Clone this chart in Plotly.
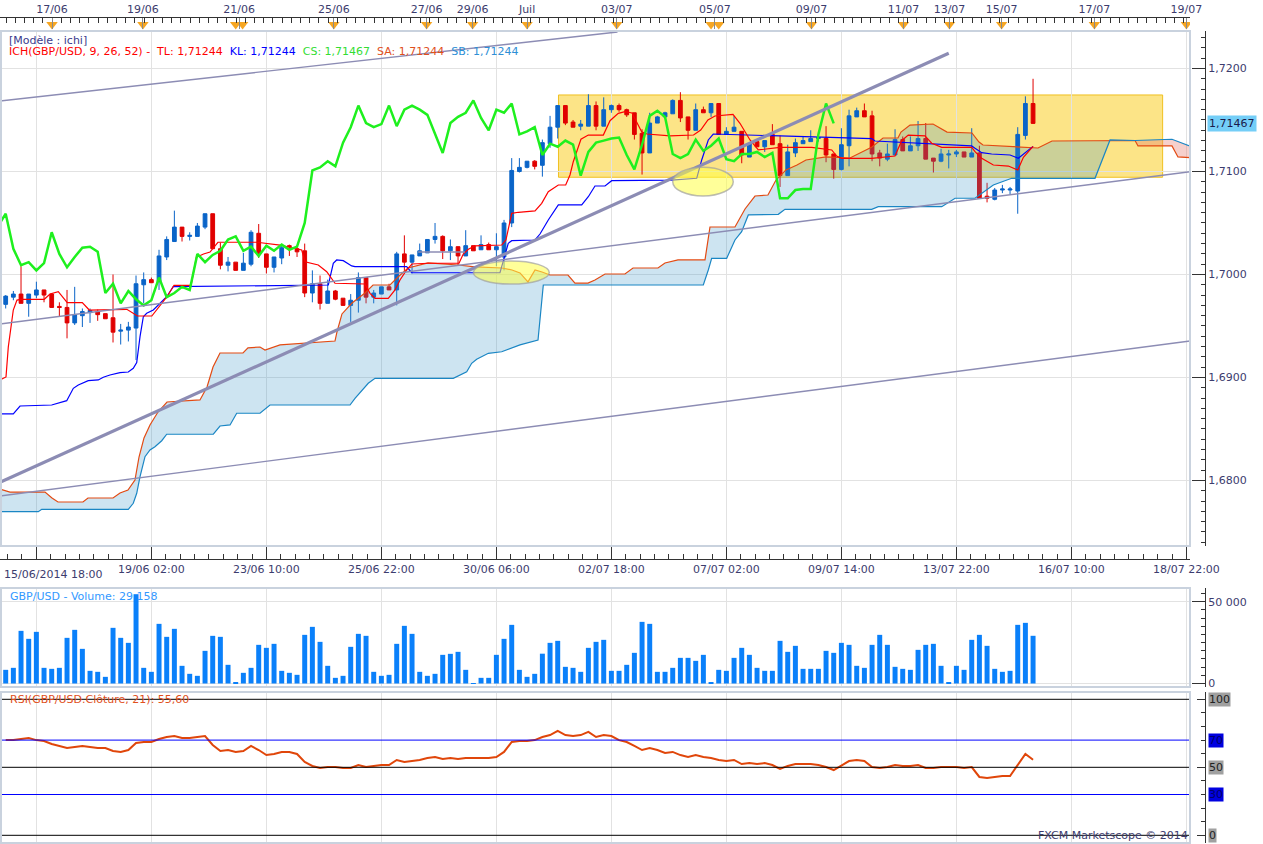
import numpy as np
import plotly.graph_objects as go

W, H = 1263, 844

# 4h bars, index 0..134 (15/06/2014 18:00 -> 15/07/2014)
opens = [1.6971, 1.6978, 1.6981, 1.6972, 1.6980, 1.6985, 1.6981, 1.6969, 1.6968, 1.6953,
         1.6960, 1.6963, 1.6964, 1.6962, 1.6958, 1.6945, 1.6946, 1.6948, 1.6990, 1.6995,
         1.6993, 1.7017, 1.7032, 1.7046, 1.7037, 1.7037, 1.7046, 1.7059, 1.7025, 1.7009,
         1.7012, 1.7004, 1.7010, 1.7040, 1.7020, 1.7007, 1.7016, 1.7028, 1.7025, 1.7023,
         1.6982, 1.6991, 1.6972, 1.6984, 1.6977, 1.6970, 1.6975, 1.6997, 1.6978, 1.6981,
         1.6988, 1.6985, 1.7020, 1.7012, 1.7018, 1.7021, 1.7034, 1.7037, 1.7023, 1.7027,
         1.7018, 1.7028, 1.7024, 1.7029, 1.7024, 1.7017, 1.7050, 1.7100, 1.7104, 1.7110,
         1.7106, 1.7127, 1.7143, 1.7164, 1.7148, 1.7144, 1.7144, 1.7164, 1.7144, 1.7160,
         1.7164, 1.7160, 1.7157, 1.7137, 1.7118, 1.7147, 1.7153, 1.7156, 1.7169, 1.7153,
         1.7140, 1.7160, 1.7157, 1.7166, 1.7136, 1.7139, 1.7139, 1.7114, 1.7129, 1.7124,
         1.7136, 1.7127, 1.7096, 1.7118, 1.7127, 1.7129, 1.7132, 1.7132, 1.7117, 1.7102,
         1.7125, 1.7153, 1.7159, 1.7154, 1.7118, 1.7112, 1.7116, 1.7131, 1.7120, 1.7125,
         1.7132, 1.7113, 1.7110, 1.7116, 1.7117, 1.7119, 1.7114, 1.7118, 1.7076, 1.7073,
         1.7082, 1.7082, 1.7081, 1.7135, 1.7166]
highs = [1.6980, 1.6984, 1.7008, 1.6981, 1.6993, 1.6985, 1.6982, 1.6973, 1.6985, 1.6988,
         1.6967, 1.6967, 1.6966, 1.6962, 1.7000, 1.6952, 1.6954, 1.6999, 1.7002, 1.6997,
         1.7024, 1.7037, 1.7062, 1.7046, 1.7041, 1.7050, 1.7059, 1.7059, 1.7031, 1.7017,
         1.7012, 1.7021, 1.7043, 1.7049, 1.7020, 1.7017, 1.7029, 1.7029, 1.7028, 1.7030,
         1.7004, 1.6999, 1.6995, 1.6985, 1.6977, 1.6981, 1.7002, 1.6997, 1.6985, 1.6988,
         1.6991, 1.7022, 1.7038, 1.7019, 1.7030, 1.7034, 1.7050, 1.7038, 1.7034, 1.7027,
         1.7043, 1.7028, 1.7038, 1.7031, 1.7040, 1.7053, 1.7113, 1.7113, 1.7110, 1.7111,
         1.7131, 1.7154, 1.7164, 1.7164, 1.7150, 1.7150, 1.7175, 1.7168, 1.7172, 1.7165,
         1.7166, 1.7161, 1.7157, 1.7141, 1.7157, 1.7154, 1.7158, 1.7170, 1.7177, 1.7153,
         1.7166, 1.7163, 1.7166, 1.7166, 1.7143, 1.7154, 1.7139, 1.7127, 1.7129, 1.7130,
         1.7146, 1.7135, 1.7126, 1.7132, 1.7134, 1.7140, 1.7136, 1.7144, 1.7117, 1.7142,
         1.7160, 1.7162, 1.7166, 1.7159, 1.7121, 1.7127, 1.7141, 1.7134, 1.7134, 1.7149,
         1.7147, 1.7113, 1.7122, 1.7121, 1.7121, 1.7119, 1.7142, 1.7125, 1.7089, 1.7084,
         1.7087, 1.7085, 1.7143, 1.7173, 1.7190]
lows = [1.6967, 1.6975, 1.6972, 1.6959, 1.6977, 1.6973, 1.6968, 1.6959, 1.6938, 1.6951,
        1.6949, 1.6953, 1.6955, 1.6957, 1.6934, 1.6932, 1.6935, 1.6917, 1.6972, 1.6992,
        1.6985, 1.7014, 1.7032, 1.7032, 1.7033, 1.7037, 1.7044, 1.7025, 1.7005, 1.7003,
        1.7004, 1.7004, 1.7008, 1.7016, 1.7001, 1.7002, 1.7010, 1.7018, 1.7017, 1.6978,
        1.6973, 1.6966, 1.6972, 1.6975, 1.6970, 1.6954, 1.6963, 1.6972, 1.6972, 1.6981,
        1.6985, 1.6970, 1.7003, 1.7001, 1.7018, 1.7021, 1.7030, 1.7015, 1.7014, 1.7009,
        1.7018, 1.7023, 1.7024, 1.7024, 1.7008, 1.7004, 1.7046, 1.7099, 1.7103, 1.7102,
        1.7095, 1.7123, 1.7132, 1.7145, 1.7143, 1.7140, 1.7144, 1.7140, 1.7144, 1.7157,
        1.7158, 1.7153, 1.7131, 1.7097, 1.7118, 1.7147, 1.7153, 1.7156, 1.7148, 1.7131,
        1.7140, 1.7157, 1.7153, 1.7136, 1.7136, 1.7139, 1.7108, 1.7114, 1.7124, 1.7119,
        1.7126, 1.7085, 1.7096, 1.7114, 1.7127, 1.7129, 1.7129, 1.7109, 1.7093, 1.7101,
        1.7105, 1.7153, 1.7153, 1.7110, 1.7105, 1.7110, 1.7116, 1.7120, 1.7120, 1.7120,
        1.7112, 1.7099, 1.7109, 1.7103, 1.7114, 1.7114, 1.7114, 1.7074, 1.7070, 1.7072,
        1.7079, 1.7078, 1.7059, 1.7131, 1.7147]
closes = [1.6979, 1.6981, 1.6972, 1.6981, 1.6985, 1.6980, 1.6968, 1.6968, 1.6953, 1.6961,
          1.6964, 1.6965, 1.6961, 1.6957, 1.6944, 1.6946, 1.6949, 1.6991, 1.6995, 1.6992,
          1.7018, 1.7034, 1.7046, 1.7037, 1.7038, 1.7047, 1.7059, 1.7025, 1.7009, 1.7012,
          1.7004, 1.7011, 1.7041, 1.7020, 1.7007, 1.7017, 1.7026, 1.7027, 1.7022, 1.6982,
          1.6991, 1.6972, 1.6984, 1.6976, 1.6970, 1.6975, 1.6997, 1.6978, 1.6982, 1.6988,
          1.6985, 1.7020, 1.7012, 1.7019, 1.7023, 1.7034, 1.7037, 1.7023, 1.7027, 1.7018,
          1.7028, 1.7023, 1.7029, 1.7024, 1.7027, 1.7050, 1.7101, 1.7104, 1.7110, 1.7105,
          1.7128, 1.7143, 1.7164, 1.7147, 1.7143, 1.7146, 1.7164, 1.7144, 1.7160, 1.7164,
          1.7160, 1.7155, 1.7136, 1.7118, 1.7147, 1.7153, 1.7157, 1.7169, 1.7152, 1.7140,
          1.7160, 1.7157, 1.7166, 1.7136, 1.7139, 1.7143, 1.7116, 1.7127, 1.7124, 1.7130,
          1.7126, 1.7096, 1.7119, 1.7128, 1.7130, 1.7132, 1.7133, 1.7116, 1.7102, 1.7126,
          1.7154, 1.7159, 1.7153, 1.7117, 1.7113, 1.7117, 1.7131, 1.7120, 1.7125, 1.7132,
          1.7112, 1.7110, 1.7117, 1.7117, 1.7119, 1.7114, 1.7118, 1.7074, 1.7074, 1.7082,
          1.7083, 1.7083, 1.7136, 1.7166, 1.71467]
volumes = [8350, 9570, 32180, 27300, 31570, 9570, 8960, 9570, 27910, 32800,
           21180, 7740, 7130, 4070, 34020, 27910, 24850, 54590, 9570, 7130,
           36460, 28520, 33410, 10800, 5910, 4690, 19960, 29130, 28520, 11410,
           410, 6520, 9570, 23630, 21800, 24240, 7740, 6520, 5300, 29740,
           34630, 25460, 10800, 3460, 4690, 22410, 30350, 29130, 7130, 4690,
           5300, 24240, 35240, 30350, 7130, 4690, 5910, 17520, 18130, 19350,
           8350, 300, 3460, 3460, 17520, 27300, 35850, 8350, 4070, 5910,
           18230, 24850, 26070, 10190, 9570, 7130, 21800, 25460, 26690, 7740,
           7740, 11410, 18740, 37680, 36460, 7130, 7130, 9570, 15680, 15680,
           13850, 17520, 610, 8350, 7740, 15680, 21800, 17520, 9570, 7740,
           7740, 26070, 19350, 23020, 8960, 8960, 8960, 19960, 18740, 24850,
           23630, 10800, 9570, 23630, 29740, 23630, 10190, 8960, 8350, 20570,
           23630, 24240, 10800, 610, 10800, 8350, 26690, 29740, 23020, 8960,
           7130, 7740, 35850, 37070, 29158]
rsi = [70.1, 70.0, 70.8, 71.5, 70.0, 69.3, 67.1, 65.7, 64.2, 64.9,
       65.7, 64.9, 64.2, 64.2, 62.0, 61.3, 62.7, 67.9, 68.6, 68.6,
       70.8, 72.3, 73.0, 71.5, 71.5, 72.3, 73.0, 66.4, 62.0, 62.7,
       61.3, 62.0, 65.7, 62.7, 59.0, 59.8, 61.3, 61.3, 59.8, 53.9,
       51.0, 49.5, 50.2, 50.2, 49.5, 49.5, 51.7, 50.2, 51.0, 51.7,
       51.7, 55.4, 53.9, 54.6, 55.4, 56.8, 57.6, 56.1, 56.8, 56.1,
       56.8, 56.8, 56.8, 56.8, 57.6, 61.3, 68.6, 69.3, 69.3, 70.0,
       72.3, 73.7, 76.7, 73.7, 73.0, 73.7, 76.0, 72.3, 73.7, 73.0,
       70.0, 68.6, 65.7, 62.7, 64.2, 62.7, 60.5, 61.3, 59.0, 57.6,
       59.0, 57.6, 56.8, 55.4, 54.6, 55.4, 52.4, 53.1, 52.4, 53.1,
       51.7, 48.8, 51.0, 52.4, 52.4, 52.4, 51.7, 50.2, 48.0, 51.0,
       54.6, 55.4, 54.6, 50.2, 49.5, 50.2, 51.7, 51.0, 51.0, 51.7,
       49.5, 49.5, 50.2, 50.2, 50.2, 49.5, 50.2, 42.9, 42.1, 42.9,
       43.6, 43.6, 51.7, 59.8, 55.6]

# Ichimoku lines: (bar index, price)
tenkan_x = [-0.74, 0.04, 0.34, 0.99, 1.47, 2.03, 5.03, 5.78, 6.86, 8.03, 9.99, 10.9, 15.8, 17.19,
            19.06, 19.98, 21.04, 21.95, 24.17, 24.87, 25.81, 26.65, 27.68, 32.78, 35.78, 38.61,
            39.04, 40.77, 41.87, 42.95, 46.86, 47.52, 48.17, 49.9, 50.78, 51.43, 52.3, 52.99,
            55.12, 59.13, 59.68, 60.34, 61.21, 64.69, 65.25, 66.0, 66.86, 69.04, 69.91, 70.77,
            72.08, 73.04, 73.6, 74.03, 75.03, 75.99, 77.95, 78.82, 79.9, 80.77, 81.69, 82.95,
            83.64, 86.64, 89.72, 90.65, 91.59, 92.51, 94.86, 95.77, 97.08, 98.16, 100.99,
            105.13, 107.74, 108.39, 109.04, 112.95, 115.99, 116.86, 117.72, 119.9, 120.78,
            122.09, 126.0, 126.43, 127.3, 128.82, 130.78, 132.01, 132.74, 134.0]
tenkan_y = [1.68976, 1.69005, 1.69296, 1.69655, 1.69752, 1.69759, 1.69759, 1.69811, 1.69833,
            1.69726, 1.69726, 1.69655, 1.69662, 1.69597, 1.69597, 1.69687, 1.69784, 1.69895,
            1.69895, 1.70167, 1.70199, 1.70218, 1.70313, 1.70313, 1.70286, 1.70238, 1.70124,
            1.70092, 1.70027, 1.69915, 1.69908, 1.69817, 1.69769, 1.69769, 1.69850, 1.69947,
            1.70044, 1.70102, 1.70109, 1.70109, 1.70199, 1.70245, 1.70277, 1.70286, 1.70335,
            1.70594, 1.70604, 1.70617, 1.70691, 1.70804, 1.70869, 1.70869, 1.70966, 1.71095,
            1.71313, 1.71354, 1.71354, 1.71493, 1.71565, 1.71581, 1.71568, 1.71386, 1.71364,
            1.71345, 1.71354, 1.71403, 1.71500, 1.71539, 1.71555, 1.71468, 1.71306, 1.71209,
            1.71235, 1.71235, 1.71209, 1.71150, 1.71128, 1.71128, 1.71150, 1.71299, 1.71354,
            1.71345, 1.71274, 1.71235, 1.71235, 1.71192, 1.71128, 1.71063, 1.71053, 1.71015,
            1.71138, 1.71244]
kijun_x = [-0.74, 0.99, 1.87, 6.0, 7.96, 8.82, 9.47, 10.77, 12.08, 12.73, 13.6, 14.91, 15.99,
           16.64, 17.09, 17.52, 17.95, 18.39, 19.25, 20.13, 21.0, 21.86, 42.08, 42.73, 43.17,
           44.03, 45.13, 45.56, 52.3, 52.95, 64.47, 65.55, 66.0, 69.04, 69.69, 70.77, 72.08,
           75.13, 75.99, 76.86, 78.17, 79.04, 86.87, 90.13, 90.78, 91.64, 92.29, 100.99,
           112.95, 113.38, 125.99, 126.43, 127.3, 128.6, 131.0, 132.08, 134.0]
kijun_y = [1.68646, 1.68646, 1.68723, 1.68733, 1.68775, 1.68895, 1.68927, 1.68969, 1.68976,
           1.69002, 1.69024, 1.69047, 1.69053, 1.69089, 1.69144, 1.69396, 1.69590, 1.69623,
           1.69655, 1.69720, 1.69784, 1.69882, 1.69898, 1.70109, 1.70141, 1.70134, 1.70083,
           1.70076, 1.70076, 1.70017, 1.70017, 1.70303, 1.70328, 1.70335, 1.70393, 1.70529,
           1.70675, 1.70675, 1.70755, 1.70859, 1.70859, 1.70911, 1.70917, 1.70934, 1.71112,
           1.71306, 1.71364, 1.71345, 1.71320, 1.71296, 1.71248, 1.71225, 1.71183, 1.71170,
           1.71160, 1.71128, 1.71244]
senkou_a_x = [-0.74, 0.56, 5.13, 6.04, 6.82, 10.08, 10.73, 14.0, 14.91, 15.95, 16.86, 17.39,
              18.04, 18.82, 19.86, 21.04, 25.34, 26.26, 27.04, 27.95, 30.95, 31.6, 33.17, 33.82,
              35.78, 42.95, 43.21, 43.86, 45.17, 46.86, 47.91, 50.12, 51.17, 52.47, 55.08, 58.99,
              61.21, 64.73, 66.04, 67.08, 68.12, 69.04, 69.95, 70.99, 73.34, 74.25, 75.95, 76.86,
              78.17, 80.77, 81.82, 85.08, 85.99, 87.69, 91.21, 91.86, 95.12, 96.43, 97.73, 99.42,
              100.47, 101.77, 103.21, 104.38, 106.99, 110.12, 112.99, 114.43, 116.38, 116.77,
              117.95, 120.95, 122.78, 126.03, 126.95, 127.47, 134.64, 136.47, 147.3, 147.69,
              152.12, 152.9, 155.12]
senkou_a_y = [1.67917, 1.67888, 1.67888, 1.67830, 1.67791, 1.67791, 1.67830, 1.67830, 1.67879,
              1.67908, 1.68005, 1.68228, 1.68413, 1.68539, 1.68665, 1.68762, 1.68782, 1.68908,
              1.69102, 1.69238, 1.69238, 1.69287, 1.69296, 1.69267, 1.69316, 1.69354, 1.69442,
              1.69617, 1.69723, 1.69820, 1.69898, 1.69898, 1.69976, 1.70063, 1.70112, 1.70092,
              1.70073, 1.70063, 1.70044, 1.70015, 1.69928, 1.70044, 1.70024, 1.69995, 1.69995,
              1.69917, 1.69917, 1.69947, 1.70005, 1.70005, 1.70063, 1.70063, 1.70112, 1.70141,
              1.70141, 1.70461, 1.70461, 1.70636, 1.70762, 1.70772, 1.70917, 1.71015, 1.71063,
              1.71112, 1.71141, 1.71131, 1.71238, 1.71325, 1.71325, 1.71383, 1.71451, 1.71461,
              1.71383, 1.71374, 1.71286, 1.71257, 1.71228, 1.71296, 1.71301, 1.71248, 1.71248,
              1.71141, 1.71131]
senkou_b_x = [-0.74, 4.25, 4.7, 15.99, 16.64, 17.09, 17.52, 18.17, 18.82, 19.47, 20.35, 21.0,
              27.08, 27.95, 29.26, 30.13, 33.17, 34.47, 44.91, 45.56, 47.29, 48.17, 58.38, 59.03,
              60.13, 60.78, 61.43, 62.95, 64.69, 67.08, 69.43, 70.12, 90.99, 91.64, 92.08, 94.04,
              95.12, 95.99, 96.86, 100.77, 101.64, 112.95, 113.82, 122.09, 123.83, 126.43,
              128.82, 131.21, 142.08, 144.04, 147.3, 152.12, 155.12]
senkou_b_y = [1.67697, 1.67697, 1.67720, 1.67720, 1.67779, 1.67876, 1.68037, 1.68231, 1.68296,
              1.68328, 1.68386, 1.68449, 1.68449, 1.68529, 1.68539, 1.68653, 1.68653, 1.68733,
              1.68733, 1.68798, 1.68944, 1.68992, 1.68992, 1.69015, 1.69056, 1.69138, 1.69177,
              1.69235, 1.69250, 1.69316, 1.69364, 1.69898, 1.69898, 1.70044, 1.70157, 1.70157,
              1.70335, 1.70416, 1.70578, 1.70584, 1.70633, 1.70633, 1.70658, 1.70658, 1.70740,
              1.70740, 1.70869, 1.70934, 1.70934, 1.71306, 1.71301, 1.71313, 1.71228]
cloud_twist = 147.3  # SA drops under SB from here

# axis labels
grid_bars = [4, 19, 34, 49, 64, 79, 94, 109, 124, 139, 154]
bottom_labels = ["", "19/06 02:00", "23/06 10:00", "25/06 22:00", "30/06 06:00", "02/07 18:00",
                 "07/07 02:00", "09/07 14:00", "13/07 22:00", "16/07 10:00", "18/07 22:00"]
first_label = "15/06/2014 18:00"
top_bars = [6.04, 17.9, 30.45, 42.8, 54.9, 60.9, 68.0, 79.7, 92.5, 105.1, 117.1, 123.1,
            129.9, 142.0, 154.0]
top_labels = ["17/06", "19/06", "21/06", "25/06", "27/06", "29/06", "Juil", "03/07", "05/07",
              "09/07", "11/07", "13/07", "15/07", "17/07", "19/07"]
marker_bars = [6.04, 17.9, 30.0, 30.9, 42.8, 54.9, 60.9, 68.0, 79.7, 92.0, 93.0, 105.1,
               117.1, 123.1, 129.9, 142.0, 154.0]
rsi_levels = [100, 70, 50, 30, 0]

X_RANGE = [-0.743, 154.47]
TXT = '#3c3c6e'
GRID = '#e2e2e2'
FONT = 'DejaVu Sans'


def py(p):
    return 1 - p / H


def px(p):
    return p / W


idx = np.arange(len(closes))
closes_arr = np.array(closes)
sa_x, sa_y = np.array(senkou_a_x), np.array(senkou_a_y)
sb_x, sb_y = np.array(senkou_b_x), np.array(senkou_b_y)

fig = go.Figure()

# candles
fig.add_trace(go.Candlestick(
    x=idx, open=opens, high=highs, low=lows, close=closes,
    increasing=dict(line=dict(color='#0a64c8', width=1), fillcolor='#0a64c8'),
    decreasing=dict(line=dict(color='#e00000', width=1), fillcolor='#e00000'),
    whiskerwidth=0, xaxis='x', yaxis='y', hoverinfo='skip'))

# kumo (cloud), blue while SA above SB, pink after the twist
m_a, m_b = sa_x <= cloud_twist, sb_x <= cloud_twist
fig.add_trace(go.Scatter(
    x=np.concatenate([sa_x[m_a], sb_x[m_b][::-1]]),
    y=np.concatenate([sa_y[m_a], sb_y[m_b][::-1]]),
    fill='toself', fillcolor='rgba(60,150,200,0.26)', line=dict(width=0),
    mode='lines', xaxis='x', yaxis='y', hoverinfo='skip'))
m_a, m_b = sa_x >= cloud_twist, sb_x >= cloud_twist
fig.add_trace(go.Scatter(
    x=np.concatenate([sa_x[m_a], sb_x[m_b][::-1]]),
    y=np.concatenate([sa_y[m_a], sb_y[m_b][::-1]]),
    fill='toself', fillcolor='rgba(230,120,110,0.35)', line=dict(width=0),
    mode='lines', xaxis='x', yaxis='y', hoverinfo='skip'))

lines = [
    (senkou_a_x, senkou_a_y, '#e34a12', 1.2),
    (senkou_b_x, senkou_b_y, '#1a86c4', 1.2),
    (kijun_x, kijun_y, '#0000ff', 1.2),
    (tenkan_x, tenkan_y, '#ff0000', 1.2),
]
for lx, ly, c, w in lines:
    fig.add_trace(go.Scatter(x=lx, y=ly, mode='lines', line=dict(color=c, width=w),
                             xaxis='x', yaxis='y', hoverinfo='skip'))

# chikou span = closes drawn 26 bars back
fig.add_trace(go.Scatter(x=idx[25:] - 26, y=closes_arr[25:], mode='lines',
                         line=dict(color='#1ef01e', width=2.5),
                         xaxis='x', yaxis='y', hoverinfo='skip'))

# volume
fig.add_trace(go.Bar(x=idx, y=volumes, width=0.65, marker=dict(color='#0a80fa', line=dict(width=0)),
                     xaxis='x2', yaxis='y2', hoverinfo='skip'))

# rsi
fig.add_trace(go.Scatter(x=idx, y=rsi, mode='lines', line=dict(color='#e0460a', width=2),
                         xaxis='x3', yaxis='y3', hoverinfo='skip'))

# ruler markers
fig.add_trace(go.Scatter(x=marker_bars, y=[0.5] * len(marker_bars), mode='markers',
                         marker=dict(symbol='triangle-down', size=10, color='#f6a623'),
                         xaxis='x4', yaxis='y4', hoverinfo='skip'))

x_dom = [0, px(1190)]
ypos = px(1205)
tick_font = dict(family=FONT, size=11, color=TXT)

# automargin off everywhere, otherwise the outside labels shrink the plotting area
common_x = dict(range=X_RANGE, domain=x_dom, tickmode='array', tickvals=grid_bars,
                showgrid=True, gridcolor=GRID, zeroline=False, fixedrange=True,
                automargin=False)

fig.update_layout(
    width=W, height=H, autosize=False, margin=dict(l=0, r=0, t=0, b=0, pad=0),
    paper_bgcolor='white', plot_bgcolor='rgba(0,0,0,0)',
    showlegend=False, separators=', ',
    font=dict(family=FONT, size=11, color=TXT),
    xaxis=dict(**common_x, ticktext=bottom_labels, anchor='free', position=py(559),
               showline=True, linecolor='#333333', ticks='inside', ticklen=12,
               tickcolor='#333333', tickfont=tick_font, rangeslider=dict(visible=False),
               minor=dict(tickmode='linear', tick0=4, dtick=1.875, ticks='inside',
                          ticklen=5, tickcolor='#333333', showgrid=False)),
    yaxis=dict(domain=[py(546), py(31)], range=[1.67364, 1.72364], side='right',
               anchor='free', position=ypos, tickmode='array',
               tickvals=[1.68, 1.69, 1.70, 1.71, 1.72], tickformat='.4f',
               showgrid=True, gridcolor=GRID, zeroline=False, showline=True,
               linecolor='#333333', ticks='inside', ticklen=13, tickcolor='#333333',
               tickfont=tick_font, fixedrange=True, automargin=False,
               minor=dict(tickmode='linear', tick0=1.68, dtick=0.001, ticks='inside',
                          ticklen=4, tickcolor='#333333', showgrid=False)),
    xaxis2=dict(**common_x, matches='x', anchor='y2', showticklabels=False, ticks=''),
    yaxis2=dict(domain=[py(687), py(588)], range=[-2140, 58375], side='right',
                anchor='free', position=ypos, tickmode='array', tickvals=[0, 50000],
                tickformat=',d', showgrid=True, gridcolor=GRID, zeroline=False,
                showline=True, linecolor='#333333', ticks='inside', ticklen=13,
                tickcolor='#333333', tickfont=tick_font, fixedrange=True, automargin=False,
                minor=dict(tickmode='linear', tick0=0, dtick=5000, ticks='inside',
                           ticklen=4, tickcolor='#333333', showgrid=False)),
    xaxis3=dict(**common_x, matches='x', anchor='y3', showticklabels=False, ticks=''),
    yaxis3=dict(domain=[py(843), py(692)], range=[-5.66, 105.37], side='right',
                anchor='free', position=ypos, tickmode='array', tickvals=[0, 50, 100],
                showticklabels=False, showgrid=False, zeroline=False, showline=True,
                linecolor='#333333', ticks='inside', ticklen=8, tickcolor='#333333',
                fixedrange=True, automargin=False,
                minor=dict(tickmode='linear', tick0=0, dtick=10, ticks='inside',
                           ticklen=4, tickcolor='#333333')),
    xaxis4=dict(range=X_RANGE, domain=x_dom, matches='x', anchor='y4', side='top',
                tickmode='array', tickvals=top_bars, ticktext=top_labels, showgrid=False,
                zeroline=False, showline=True, linecolor='#333333', ticks='inside',
                ticklen=11, tickcolor='#8a8a8a', tickfont=tick_font, fixedrange=True,
                automargin=False,
                minor=dict(tickmode='linear', tick0=6.04, dtick=1.2, ticks='inside',
                           ticklen=5, tickcolor='#333333')),
    yaxis4=dict(domain=[py(31), py(18)], range=[0, 1], visible=False, fixedrange=True,
                automargin=False),
)

# drawn objects on the price panel
trend_lines = [
    ((-0.743, 1.67982), (123.0, 1.72148), 3.2),
    ((-0.743, 1.71684), (79.8, 1.72354), 1.4),
    ((-0.743, 1.69519), (154.47, 1.70998), 1.4),
    ((-0.743, 1.67850), (154.47, 1.69354), 1.4),
    ((53.8, 1.70218), (59.9, 1.70218), 1.4),
]
shapes = [dict(type='rect', xref='x', yref='y', x0=72.1, x1=150.9, y0=1.70944, y1=1.71743,
               fillcolor='rgba(251,214,70,0.65)', line=dict(color='#f0c020', width=1),
               layer='below')]
for (x0, y0), (x1, y1), w in trend_lines:
    shapes.append(dict(type='line', xref='x', yref='y', x0=x0, y0=y0, x1=x1, y1=y1,
                       line=dict(color='#8c8cb4', width=w), layer='above'))
for x0, x1, y0, y1 in [(61.0, 70.9, 1.69907, 1.70131), (87.0, 94.9, 1.70762, 1.71041)]:
    shapes.append(dict(type='circle', xref='x', yref='y', x0=x0, x1=x1, y0=y0, y1=y1,
                       fillcolor='rgba(255,255,70,0.55)',
                       line=dict(color='rgba(160,160,160,0.7)', width=1.5), layer='above'))
# rsi levels
for lv in rsi_levels:
    shapes.append(dict(type='line', xref='x3 domain', yref='y3', x0=0, x1=1, y0=lv, y1=lv,
                       line=dict(color='#0000ff' if lv in (30, 70) else '#000000', width=1)))
# panel frames
for top, bot in [(31, 546), (588, 687), (692, 843)]:
    shapes.append(dict(type='rect', xref='paper', yref='paper', x0=px(1), x1=px(1190),
                       y0=py(bot), y1=py(top), line=dict(color='#c9d2de', width=2),
                       layer='above'))
fig.update_layout(shapes=shapes)

ICH = ('<span style="color:#ff0000">ICH(GBP/USD, 9, 26, 52) -&nbsp;&nbsp;TL: 1,71244</span>'
       '&nbsp;&nbsp;<span style="color:#0000ff">KL: 1,71244</span>'
       '&nbsp;&nbsp;<span style="color:#33dd33">CS: 1,71467</span>'
       '&nbsp;&nbsp;<span style="color:#e0501c">SA: 1,71244</span>'
       '&nbsp;&nbsp;<span style="color:#2e8fd6">SB: 1,71244</span>')

annotations = [
    dict(text='[Modèle : ichi]', x=px(7), y=py(40), font=dict(color='#3a3a8c')),
    dict(text=ICH, x=px(7), y=py(52)),
    dict(text='GBP/USD - Volume: 29 158', x=px(8), y=py(596), font=dict(color='#3399ff')),
    dict(text='RSI(GBP/USD.Clôture, 21): 55,60', x=px(8), y=py(699),
         font=dict(color='#e0501c')),
    dict(text=first_label, x=px(2), y=py(574), font=dict(color=TXT)),
]
for a in annotations:
    a.update(xref='paper', yref='paper', xanchor='left', yanchor='middle', showarrow=False)
    a.setdefault('font', {})
    a['font'].update(family=FONT, size=11)

annotations.append(dict(text='FXCM Marketscope © 2014', xref='paper', yref='paper',
                        x=px(1190), y=py(835), xanchor='right', yanchor='middle',
                        showarrow=False, font=dict(family=FONT, size=11, color=TXT)))
annotations.append(dict(text='1,71467', xref='paper', yref='y', x=px(1207), y=closes[-1],
                        xanchor='left', yanchor='middle', showarrow=False,
                        bgcolor='#74cef7', borderpad=1,
                        font=dict(family=FONT, size=11, color='#1a1a4a')))
for lv in rsi_levels:
    annotations.append(dict(text=str(lv), xref='paper', yref='y3', x=px(1208), y=lv,
                            xanchor='left', yanchor='middle', showarrow=False,
                            bgcolor='#0000e0' if lv in (30, 70) else '#a0a0a0', borderpad=0,
                            font=dict(family=FONT, size=11,
                                      color='#00006a' if lv in (30, 70) else '#222222')))
fig.update_layout(annotations=annotations)

# drop the default body margin so the 1263x844 figure sits flush in the window
page_fix = (
    "document.body.style.margin = '0';"
    "document.body.style.overflow = 'hidden';"
    "document.documentElement.style.overflow = 'hidden';"
)
fig.write_html("out.html", config={'responsive': False, 'displayModeBar': False},
               post_script=page_fix)
